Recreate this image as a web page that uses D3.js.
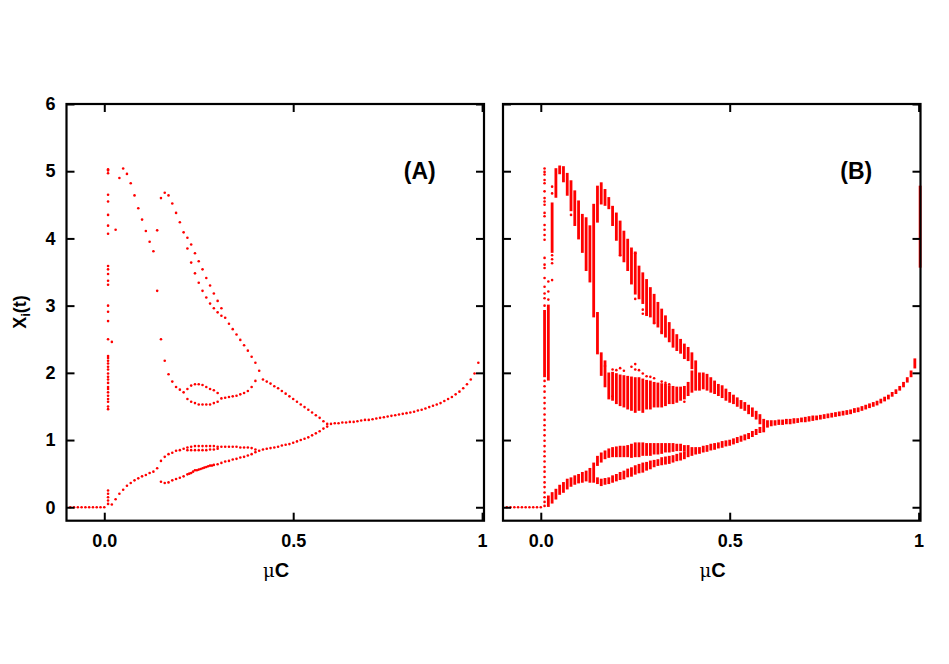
<!DOCTYPE html>
<html>
<head>
<meta charset="utf-8">
<script src="https://cdn.jsdelivr.net/npm/d3@7"></script>
<style>
  body { margin: 0; background: #fff; }
  svg { font-family: "Liberation Sans", Arial, Helvetica, sans-serif; }
</style>
</head>
<body>
<div id="chart"></div>
<script>
// ---- data: mu*C values and attractor values X_i(t) ----

// flat branch at X = 0 before the onset (both panels)
const flatMu = [-0.09, -0.08, -0.07, -0.06, -0.05, -0.04, -0.03, -0.02, -0.01, 0.00];

// panel A: column of points at muC = 0.01
const aColumn = [5.03, 5.01, 4.97, 4.65, 4.55, 4.35, 4.19, 4.07, 3.59, 3.54, 3.47, 3.37, 3.31,
    3.00, 2.91, 2.77, 2.50, 2.25, 2.22, 2.18, 2.14, 2.09, 2.05, 1.99, 1.94, 1.90, 1.85, 1.79,
    1.76, 1.71, 1.66, 1.61, 1.57, 1.50, 1.46, 0.25, 0.20, 0.15, 0.10, 0.05];

// panel A: upper branches [muC, X]
const aUpper = [[0.02, 2.46], [0.03, 4.13], [0.04, 4.90], [0.05, 5.04], [0.06, 4.96], [0.07, 4.82],
    [0.08, 4.64], [0.09, 4.45], [0.10, 4.28], [0.11, 4.11], [0.12, 3.95], [0.13, 3.81],
    [0.14, 4.12], [0.14, 3.22], [0.15, 4.60], [0.15, 2.50],
    [0.16, 4.68], [0.17, 4.64], [0.18, 4.52], [0.19, 4.38], [0.20, 4.24], [0.21, 4.09],
    [0.22, 4.01], [0.22, 3.85], [0.23, 3.91], [0.23, 3.64], [0.24, 3.78], [0.24, 3.48],
    [0.25, 3.66], [0.25, 3.34], [0.26, 3.54], [0.26, 3.22], [0.27, 3.41], [0.27, 3.12],
    [0.28, 3.30], [0.28, 3.03], [0.29, 3.18], [0.29, 2.96], [0.30, 3.07], [0.30, 2.90],
    [0.31, 2.96], [0.31, 2.85], [0.32, 2.82], [0.33, 2.73], [0.34, 2.65], [0.35, 2.57],
    [0.36, 2.49], [0.37, 2.41], [0.38, 2.33], [0.39, 2.24], [0.40, 2.15], [0.41, 2.03]];

// panel A: middle branch with the loop near X = 1.7
const aMiddle = [[0.16, 2.18], [0.17, 1.98], [0.18, 1.87], [0.19, 1.79], [0.20, 1.75], [0.21, 1.71],
    [0.22, 1.76], [0.23, 1.81], [0.24, 1.83], [0.25, 1.83], [0.26, 1.82], [0.27, 1.79],
    [0.28, 1.76], [0.29, 1.74], [0.30, 1.70],
    [0.22, 1.61], [0.23, 1.57], [0.24, 1.55], [0.25, 1.53], [0.26, 1.53], [0.27, 1.53],
    [0.28, 1.53], [0.29, 1.55], [0.30, 1.57],
    [0.31, 1.62], [0.32, 1.63], [0.33, 1.64], [0.34, 1.65], [0.35, 1.66], [0.36, 1.68],
    [0.37, 1.70], [0.38, 1.73], [0.39, 1.79], [0.40, 1.88],
    [0.42, 1.90], [0.43, 1.87], [0.44, 1.84], [0.45, 1.80], [0.46, 1.77], [0.47, 1.73],
    [0.48, 1.69], [0.49, 1.65], [0.50, 1.61], [0.51, 1.57], [0.52, 1.53], [0.53, 1.49],
    [0.54, 1.45], [0.55, 1.41], [0.56, 1.37], [0.57, 1.33], [0.58, 1.28], [0.59, 1.24]];

// panel A: lower branches
const aLower = [[0.02, 0.04], [0.03, 0.12], [0.04, 0.20], [0.05, 0.26], [0.06, 0.32], [0.07, 0.36],
    [0.08, 0.40], [0.09, 0.43], [0.10, 0.46], [0.11, 0.48], [0.12, 0.51], [0.13, 0.53], [0.14, 0.58],
    [0.15, 0.69], [0.16, 0.75], [0.17, 0.79], [0.18, 0.81], [0.19, 0.84], [0.20, 0.85], [0.21, 0.87],
    [0.22, 0.89], [0.23, 0.90], [0.24, 0.91], [0.25, 0.91], [0.26, 0.91], [0.27, 0.91],
    [0.28, 0.91], [0.29, 0.91], [0.30, 0.90],
    [0.22, 0.85], [0.23, 0.85], [0.24, 0.85], [0.25, 0.85], [0.26, 0.85], [0.27, 0.85],
    [0.28, 0.86], [0.29, 0.86], [0.30, 0.87],
    [0.31, 0.90], [0.32, 0.90], [0.33, 0.90], [0.34, 0.90], [0.35, 0.90], [0.36, 0.89],
    [0.37, 0.89], [0.38, 0.89], [0.39, 0.88], [0.40, 0.86],
    [0.15, 0.38], [0.16, 0.36], [0.17, 0.37], [0.18, 0.40], [0.19, 0.42], [0.20, 0.44],
    [0.21, 0.46], [0.22, 0.49], [0.23, 0.51], [0.24, 0.55], [0.25, 0.56], [0.26, 0.58],
    [0.27, 0.60], [0.28, 0.62], [0.29, 0.63], [0.30, 0.64], [0.31, 0.66], [0.32, 0.68],
    [0.33, 0.69], [0.34, 0.71], [0.35, 0.72], [0.36, 0.74], [0.37, 0.75], [0.38, 0.77],
    [0.39, 0.79], [0.40, 0.82],
    [0.225, 0.50], [0.235, 0.53], [0.245, 0.55], [0.255, 0.57], [0.265, 0.59], [0.275, 0.61], [0.285, 0.62],
    [0.41, 0.84], [0.42, 0.86], [0.43, 0.87], [0.44, 0.88], [0.45, 0.89], [0.46, 0.90],
    [0.47, 0.92], [0.48, 0.93], [0.49, 0.94], [0.50, 0.96], [0.51, 0.98], [0.52, 1.00],
    [0.53, 1.02], [0.54, 1.04], [0.55, 1.07], [0.56, 1.10], [0.57, 1.13], [0.58, 1.17], [0.59, 1.20]];

// panel A: single branch after the merge
const aMain = [[0.60, 1.24], [0.61, 1.25], [0.62, 1.25], [0.63, 1.26], [0.64, 1.26], [0.65, 1.27],
    [0.66, 1.27], [0.67, 1.28], [0.68, 1.29], [0.69, 1.30], [0.70, 1.30], [0.71, 1.31],
    [0.72, 1.32], [0.73, 1.33], [0.74, 1.34], [0.75, 1.35], [0.76, 1.36], [0.77, 1.37],
    [0.78, 1.38], [0.79, 1.39], [0.80, 1.40], [0.81, 1.41], [0.82, 1.42], [0.83, 1.44],
    [0.84, 1.45], [0.85, 1.47], [0.86, 1.49], [0.87, 1.51], [0.88, 1.53], [0.89, 1.55],
    [0.90, 1.58], [0.91, 1.61], [0.92, 1.64], [0.93, 1.68], [0.94, 1.72], [0.95, 1.77],
    [0.96, 1.83], [0.97, 1.90], [0.98, 1.99], [0.99, 2.15]];

// panel B: column of points at muC = 0.01
const bColumn = [5.04, 4.99, 4.95, 4.87, 4.82, 4.70, 4.60, 4.55, 4.50, 4.38, 4.33, 4.20, 4.13,
    4.05, 3.98, 3.71, 3.61, 3.56, 3.41, 3.28, 3.18, 3.11, 3.00,
    1.88, 1.80, 1.72, 1.63, 1.55, 1.47, 1.38, 1.30, 1.22, 1.15, 1.07, 0.99, 0.91, 0.83,
    0.76, 0.68, 0.60, 0.53, 0.45, 0.37, 0.30, 0.22, 0.15, 0.08, 0.02];

// panel B: scattered single points [muC, X]
const bDots = [[0.02, 3.36], [0.02, 3.21], [0.02, 3.09], [0.03, 4.77], [0.03, 4.67], [0.03, 3.75],
    [0.03, 3.69], [0.03, 3.63], [0.03, 3.38], [0.08, 4.35], [0.21, 3.75], [0.25, 3.78],
    [0.25, 3.10], [0.27, 2.94], [0.27, 2.88], [0.28, 2.88], [0.30, 2.74], [0.32, 2.61],
    [0.17, 2.10], [0.19, 2.05], [0.20, 2.04], [0.21, 2.07], [0.22, 2.03], [0.24, 2.09],
    [0.25, 2.13], [0.25, 2.05], [0.26, 2.04], [0.27, 1.99], [0.28, 1.95], [0.29, 1.94],
    [0.30, 1.92], [0.32, 1.87], [0.33, 1.85], [0.34, 1.83], [0.38, 1.57], [0.19, 1.65]];

// panel B: dense vertical bands [muC, Xmin, Xmax]
const bBands = [[0.01, 1.95, 2.92], [0.02, 1.90, 3.00], [0.03, 3.80, 4.52],
    [0.04, 4.62, 5.03], [0.05, 4.97, 5.07], [0.06, 4.85, 5.06], [0.07, 4.65, 4.96],
    [0.08, 4.42, 4.85], [0.09, 4.20, 4.70], [0.10, 4.00, 4.55], [0.11, 3.80, 4.35],
    [0.12, 3.53, 4.30], [0.13, 3.36, 4.18], [0.14, 2.84, 4.50], [0.15, 4.25, 4.77],
    [0.15, 2.29, 2.89],
    // upper descending band
    [0.16, 4.52, 4.82], [0.17, 4.50, 4.72], [0.18, 4.45, 4.60], [0.19, 4.20, 4.47],
    [0.20, 3.98, 4.37], [0.21, 3.75, 4.25], [0.22, 3.66, 4.10], [0.23, 3.53, 3.98],
    [0.24, 3.33, 3.85], [0.25, 3.18, 3.79], [0.26, 3.11, 3.58], [0.27, 3.04, 3.48],
    [0.28, 2.86, 3.38], [0.29, 2.84, 3.26], [0.30, 2.74, 3.16], [0.31, 2.69, 3.04],
    [0.32, 2.59, 2.94], [0.33, 2.54, 2.84], [0.34, 2.47, 2.74], [0.35, 2.39, 2.64],
    [0.36, 2.34, 2.56], [0.37, 2.30, 2.49], [0.38, 2.22, 2.42], [0.39, 2.19, 2.37],
    [0.40, 2.07, 2.29], [0.41, 1.75, 2.17],
    // cloud near X = 1.7
    [0.16, 1.97, 2.29], [0.17, 1.80, 2.17], [0.18, 1.62, 1.99], [0.19, 1.60, 2.00],
    [0.20, 1.55, 1.98], [0.21, 1.52, 1.96], [0.22, 1.50, 1.95], [0.23, 1.47, 1.94],
    [0.24, 1.45, 1.93], [0.25, 1.42, 1.92], [0.26, 1.45, 1.92], [0.27, 1.42, 1.90],
    [0.28, 1.47, 1.88], [0.29, 1.47, 1.87], [0.30, 1.50, 1.85], [0.31, 1.50, 1.84],
    [0.32, 1.50, 1.83], [0.33, 1.52, 1.82], [0.34, 1.55, 1.80], [0.35, 1.55, 1.79],
    [0.36, 1.57, 1.78], [0.37, 1.60, 1.78], [0.38, 1.62, 1.79], [0.39, 1.67, 1.85],
    [0.40, 1.72, 2.02],
    // merged band going down to the junction
    [0.42, 1.75, 1.99], [0.43, 1.77, 1.99], [0.44, 1.75, 1.97], [0.45, 1.72, 1.92],
    [0.46, 1.70, 1.87], [0.47, 1.67, 1.82], [0.48, 1.64, 1.80], [0.49, 1.60, 1.75],
    [0.50, 1.57, 1.70], [0.51, 1.55, 1.66], [0.52, 1.51, 1.62], [0.53, 1.48, 1.58],
    [0.54, 1.45, 1.55], [0.55, 1.40, 1.51], [0.56, 1.36, 1.47], [0.57, 1.32, 1.42],
    [0.58, 1.25, 1.37], [0.59, 1.13, 1.30],
    // lower branches
    [0.02, 0.02, 0.16], [0.03, 0.07, 0.21], [0.04, 0.13, 0.26], [0.05, 0.20, 0.32],
    [0.06, 0.23, 0.36], [0.07, 0.28, 0.41], [0.08, 0.32, 0.43], [0.09, 0.35, 0.46],
    [0.10, 0.37, 0.48], [0.11, 0.38, 0.51], [0.12, 0.40, 0.53], [0.13, 0.38, 0.57],
    [0.14, 0.38, 0.65],
    [0.15, 0.63, 0.75], [0.16, 0.68, 0.80], [0.17, 0.73, 0.83], [0.18, 0.75, 0.86],
    [0.19, 0.76, 0.88], [0.20, 0.76, 0.89], [0.21, 0.76, 0.90], [0.22, 0.76, 0.90],
    [0.23, 0.76, 0.91], [0.24, 0.75, 0.93], [0.25, 0.76, 0.95], [0.26, 0.76, 0.95],
    [0.27, 0.78, 0.95], [0.28, 0.78, 0.94], [0.29, 0.78, 0.94], [0.30, 0.80, 0.94],
    [0.31, 0.80, 0.94], [0.32, 0.81, 0.94], [0.33, 0.83, 0.94], [0.34, 0.83, 0.94],
    [0.35, 0.84, 0.94], [0.36, 0.85, 0.93], [0.37, 0.85, 0.93], [0.38, 0.84, 0.91],
    [0.15, 0.36, 0.43], [0.16, 0.33, 0.41], [0.17, 0.35, 0.42], [0.18, 0.36, 0.43],
    [0.19, 0.38, 0.46], [0.20, 0.40, 0.48], [0.21, 0.42, 0.51], [0.22, 0.43, 0.53],
    [0.23, 0.46, 0.56], [0.24, 0.47, 0.58], [0.25, 0.50, 0.61], [0.26, 0.52, 0.63],
    [0.27, 0.53, 0.65], [0.28, 0.56, 0.66], [0.29, 0.58, 0.68], [0.30, 0.61, 0.69],
    [0.31, 0.63, 0.70], [0.32, 0.64, 0.73], [0.33, 0.65, 0.74], [0.34, 0.66, 0.75],
    [0.35, 0.68, 0.76], [0.36, 0.70, 0.78], [0.37, 0.71, 0.80], [0.38, 0.73, 0.81],
    [0.39, 0.76, 0.91], [0.40, 0.78, 0.88], [0.41, 0.80, 0.88], [0.42, 0.81, 0.88],
    [0.43, 0.83, 0.90], [0.44, 0.84, 0.91], [0.45, 0.86, 0.93], [0.46, 0.87, 0.94],
    [0.47, 0.89, 0.95], [0.48, 0.90, 0.97], [0.49, 0.92, 0.98], [0.50, 0.93, 0.99],
    [0.51, 0.95, 1.01], [0.52, 0.97, 1.03], [0.53, 0.99, 1.05], [0.54, 1.01, 1.07],
    [0.55, 1.03, 1.09], [0.56, 1.06, 1.12], [0.57, 1.09, 1.15], [0.58, 1.12, 1.18],
    // single branch after the merge
    [0.60, 1.20, 1.28], [0.61, 1.22, 1.28], [0.62, 1.23, 1.28], [0.63, 1.24, 1.29],
    [0.64, 1.24, 1.29], [0.65, 1.25, 1.30], [0.66, 1.25, 1.30], [0.67, 1.26, 1.31],
    [0.68, 1.27, 1.31], [0.69, 1.28, 1.32], [0.70, 1.28, 1.33], [0.71, 1.29, 1.34],
    [0.72, 1.30, 1.35], [0.73, 1.31, 1.35], [0.74, 1.32, 1.36], [0.75, 1.33, 1.37],
    [0.76, 1.34, 1.38], [0.77, 1.35, 1.39], [0.78, 1.36, 1.40], [0.79, 1.37, 1.41],
    [0.80, 1.38, 1.42], [0.81, 1.39, 1.43], [0.82, 1.40, 1.44], [0.83, 1.42, 1.46],
    [0.84, 1.43, 1.47], [0.85, 1.45, 1.49], [0.86, 1.47, 1.51], [0.87, 1.49, 1.53],
    [0.88, 1.51, 1.55], [0.89, 1.53, 1.57], [0.90, 1.56, 1.60], [0.91, 1.59, 1.63],
    [0.92, 1.62, 1.66], [0.93, 1.66, 1.70], [0.94, 1.70, 1.74], [0.95, 1.75, 1.79],
    [0.96, 1.80, 1.85], [0.97, 1.87, 1.92], [0.98, 1.95, 2.02], [0.99, 2.08, 2.20],
    [1.004, 3.58, 4.77]];

const xTicks = [0, 0.5, 1];
const xTickLabels = ["0.0", "0.5", "1"];
const yTicks = [0, 1, 2, 3, 4, 5, 6];

// ---- layout ----
const width = 949, height = 664;
const plotTop = 104, plotBottom = 520.7;
const panels = [
    { left: 66.5, right: 484, label: "(A)", yLabels: true },
    { left: 503, right: 920.5, label: "(B)", yLabels: false }
];
const red = "#ff0000";

const svg = d3.select("#chart").append("svg")
    .attr("width", width)
    .attr("height", height)
    .attr("viewBox", [0, 0, width, height]);

const y = d3.scaleLinear().domain([-0.2, 6]).range([plotBottom, plotTop]);

panels.forEach((p, i) => {
    const x = d3.scaleLinear().domain([-0.1, 1.005]).range([p.left, p.right]);
    const g = svg.append("g");

    // data
    const marks = g.append("g").attr("fill", red);
    if (i === 0) {
        const pts = [
            ...flatMu.map(m => [m, 0]),
            ...aColumn.map(v => [0.01, v]),
            ...aUpper, ...aMiddle, ...aLower, ...aMain
        ];
        marks.selectAll("circle").data(pts).join("circle")
            .attr("cx", d => x(d[0]))
            .attr("cy", d => y(d[1]))
            .attr("r", 1.3);
    } else {
        marks.selectAll("rect").data(bBands).join("rect")
            .attr("x", d => x(d[0]) - 1.4)
            .attr("width", 2.8)
            .attr("y", d => y(d[2]) - 1)
            .attr("height", d => y(d[1]) - y(d[2]) + 2);
        const pts = [
            ...flatMu.map(m => [m, 0]),
            ...bColumn.map(v => [0.01, v]),
            ...bDots
        ];
        marks.selectAll("circle").data(pts).join("circle")
            .attr("cx", d => x(d[0]))
            .attr("cy", d => y(d[1]))
            .attr("r", 1.3);
    }

    // axes with inward ticks on all four sides
    const style = a => a.call(s => s.select(".domain").remove())
        .call(s => s.selectAll(".tick line").attr("stroke", "#000").attr("stroke-width", 2))
        .call(s => s.selectAll(".tick text").attr("fill", "#000")
            .attr("font-size", 18).attr("font-weight", "bold")
            .attr("font-family", "'Liberation Sans', Arial, sans-serif"));

    g.append("g")
        .attr("transform", `translate(0,${plotBottom})`)
        .call(d3.axisBottom(x).tickValues(xTicks).tickSize(-8).tickPadding(13.5)
            .tickFormat((d, k) => xTickLabels[k]))
        .call(style);
    g.append("g")
        .attr("transform", `translate(0,${plotTop})`)
        .call(d3.axisTop(x).tickValues(xTicks).tickSize(-8).tickFormat(""))
        .call(style);
    g.append("g")
        .attr("transform", `translate(${p.left},0)`)
        .call(d3.axisLeft(y).tickValues(yTicks).tickSize(-8).tickPadding(11)
            .tickFormat(p.yLabels ? d3.format("d") : ""))
        .call(style);
    g.append("g")
        .attr("transform", `translate(${p.right},0)`)
        .call(d3.axisRight(y).tickValues(yTicks).tickSize(-8).tickFormat(""))
        .call(style);

    // frame
    g.append("rect")
        .attr("x", p.left)
        .attr("y", plotTop)
        .attr("width", p.right - p.left)
        .attr("height", plotBottom - plotTop)
        .attr("fill", "none")
        .attr("stroke", "#000")
        .attr("stroke-width", 2.2);

    // panel tag
    g.append("text")
        .attr("x", x(0.835))
        .attr("y", y(5) + 8)
        .attr("text-anchor", "middle")
        .attr("font-size", 23)
        .attr("font-weight", "bold")
        .text(p.label);

    // x axis title
    const xt = g.append("text")
        .attr("x", x(0.455))
        .attr("y", 577)
        .attr("text-anchor", "middle")
        .attr("font-size", 20);
    xt.append("tspan").attr("font-family", "'DejaVu Serif', serif").attr("font-size", 18).text("μ");
    xt.append("tspan").attr("font-weight", "bold").text("C");
});

// y axis title
const yt = svg.append("text")
    .attr("transform", "translate(26,312) rotate(-90)")
    .attr("text-anchor", "middle")
    .attr("font-size", 18)
    .attr("font-weight", "bold");
yt.append("tspan").text("X");
yt.append("tspan").attr("font-size", 13).attr("dy", 4).text("i");
yt.append("tspan").attr("dy", -4).text("(t)");
</script>
</body>
</html>
